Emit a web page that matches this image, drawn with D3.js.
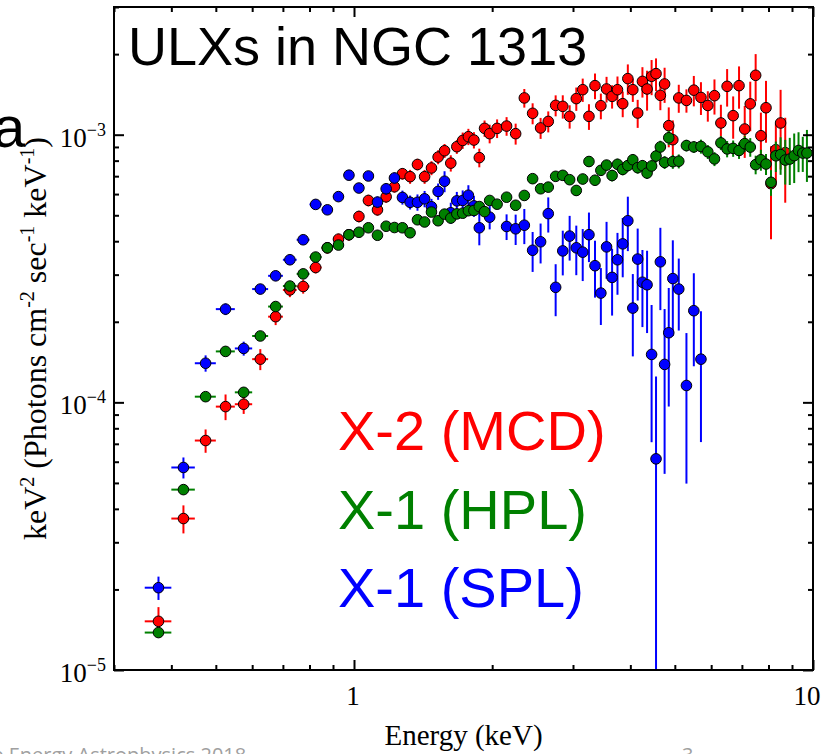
<!DOCTYPE html>
<html>
<head>
<meta charset="utf-8">
<script src="https://cdn.jsdelivr.net/npm/d3@7"></script>
<style>
  body { margin: 0; background: #fff; }
  svg { display: block; }
</style>
</head>
<body>
<svg id="chart" width="824" height="754"></svg>
<script>
// ---------- data ----------
// Unfolded spectra, keV^2 (photons cm^-2 s^-1 keV^-1) vs energy (keV)
const energyDomain = [0.3, 10];
const fluxDomain = [1e-5, 3e-3];
const xMajorTicks = [1, 10];
const xTickLabels = ["1", "10"];
const yMajorTicks = [1e-5, 1e-4, 1e-3];
const yTickExponents = ["\u22125", "\u22124", "\u22123"];
const binHalfWidth = 0.025; // keV

// X-2, multicolour disc
const redEnergy = [0.375,0.425,0.475,0.525,0.575,0.625,0.675,0.725,0.775,0.825,0.875,0.925,0.975,
  1.025,1.075,1.125,1.175,1.225,1.275,1.325,1.375,1.425,1.475,1.525,1.575,1.625,1.675,1.725,1.775,1.825,1.875,1.925,1.975,
  2.05,2.15,2.25,2.35,2.45,2.55,2.65,2.75,2.85,2.95,3.05,3.15,3.25,3.35,3.45,3.55,3.65,3.75,3.85,3.95,
  4.05,4.15,4.25,4.35,4.45,4.55,4.65,4.75,4.85,4.95,5.1,5.3,5.5,5.7,5.9,6.1,6.3,6.5,6.7,6.9,
  7.1,7.3,7.5,7.7,7.9,8.1,8.3,8.5,8.7];
const redFlux = [1.52e-5,3.68e-5,7.20e-5,9.64e-5,9.84e-5,1.45e-4,2.09e-4,2.63e-4,2.71e-4,3.19e-4,3.78e-4,4.07e-4,4.23e-4,
  4.95e-4,5.68e-4,5.24e-4,5.86e-4,6.39e-4,7.15e-4,6.97e-4,7.74e-4,6.97e-4,7.51e-4,8.25e-4,8.71e-4,7.83e-4,9.02e-4,9.52e-4,9.83e-4,9.55e-4,8.21e-4,1.056e-3,1.009e-3,
  1.056e-3,1.077e-3,1.009e-3,1.372e-3,1.202e-3,1.060e-3,1.121e-3,1.287e-3,1.276e-3,1.171e-3,1.364e-3,1.473e-3,1.171e-3,1.525e-3,1.283e-3,1.482e-3,1.391e-3,1.473e-3,1.306e-3,1.620e-3,
  1.473e-3,1.205e-3,1.582e-3,1.482e-3,1.653e-3,1.691e-3,1.403e-3,1.547e-3,1.081e-3,9.58e-4,1.372e-3,1.343e-3,1.467e-3,1.378e-3,1.286e-3,1.399e-3,1.106e-3,1.516e-3,1.178e-3,1.525e-3,
  1.050e-3,1.304e-3,1.667e-3,9.91e-4,1.261e-3,6.56e-4,8.79e-4,1.106e-3,8.57e-4];
const redErrFrac = [0.13,0.12,0.10,0.11,0.08,0.09,0.07,0.06,0.06,0.05,0.05,0.05,0.05,
  0.05,0.05,0.05,0.05,0.05,0.05,0.06,0.05,0.06,0.06,0.06,0.06,0.07,0.06,0.07,0.07,0.07,0.08,0.07,0.08,
  0.08,0.08,0.09,0.08,0.09,0.09,0.09,0.09,0.10,0.10,0.10,0.10,0.11,0.11,0.11,0.11,0.10,0.12,0.11,0.13,
  0.10,0.12,0.13,0.17,0.15,0.14,0.12,0.15,0.17,0.18,0.12,0.10,0.13,0.14,0.13,0.15,0.17,0.16,0.18,0.18,
  0.22,0.21,0.20,0.22,0.26,0.38,0.25,0.33,0.35];

// X-1, soft power law
const blueEnergy = [0.375,0.425,0.475,0.525,0.575,0.625,0.675,0.725,0.775,0.825,0.875,0.925,0.975,
  1.025,1.075,1.125,1.175,1.225,1.275,1.325,1.375,1.425,1.475,1.525,1.575,1.625,1.675,1.725,1.775,1.825,1.875,1.975,
  2.15,2.25,2.35,2.45,2.55,2.65,2.75,2.85,2.95,3.05,3.15,3.25,3.35,3.45,3.55,3.65,3.75,3.85,3.95,
  4.05,4.15,4.25,4.35,4.45,4.55,4.65,4.75,4.85,4.95,5.1,5.3,5.5,5.7];
const blueFlux = [2.03e-5,5.71e-5,1.40e-4,2.23e-4,1.59e-4,2.65e-4,2.97e-4,3.41e-4,4.05e-4,5.49e-4,5.24e-4,5.87e-4,7.06e-4,
  6.32e-4,7.01e-4,5.60e-4,6.28e-4,6.89e-4,5.83e-4,5.59e-4,5.59e-4,5.76e-4,5.38e-4,6.14e-4,6.70e-4,5.11e-4,5.66e-4,5.68e-4,5.94e-4,5.42e-4,4.49e-4,4.92e-4,
  4.54e-4,4.45e-4,4.59e-4,3.70e-4,3.98e-4,5.07e-4,2.69e-4,3.68e-4,4.18e-4,3.78e-4,3.64e-4,4.23e-4,3.24e-4,2.56e-4,3.81e-4,2.93e-4,3.41e-4,3.91e-4,4.77e-4,
  2.25e-4,3.43e-4,2.81e-4,2.75e-4,1.51e-4,6.15e-5,3.35e-4,1.386e-4,1.82e-4,2.90e-4,2.65e-4,1.156e-4,2.20e-4,1.45e-4];
const blueErrFrac = [0.10,0.09,0.07,0.05,0.06,0.045,0.045,0.045,0.04,0.035,0.035,0.035,0.035,
  0.04,0.04,0.05,0.05,0.05,0.06,0.06,0.07,0.07,0.07,0.07,0.09,0.09,0.08,0.09,0.09,0.09,0.14,0.10,
  0.11,0.13,0.15,0.17,0.17,0.15,0.22,0.19,0.19,0.21,0.22,0.21,0.24,0.24,0.24,0.28,0.26,0.25,0.23,
  0.34,0.30,0.32,0.34,0.53,1.03,0.34,0.61,0.47,0.39,0.30,0.57,0.38,0.51];

// X-1, hard power law
const greenEnergy = [0.375,0.425,0.475,0.525,0.575,0.625,0.675,0.725,0.775,0.825,0.875,0.925,0.975,
  1.025,1.075,1.125,1.175,1.225,1.275,1.325,1.375,1.425,1.475,1.525,1.575,1.625,1.675,1.725,1.775,1.825,1.875,1.925,1.975,
  2.05,2.15,2.25,2.35,2.45,2.55,2.65,2.75,2.85,2.95,3.05,3.15,3.25,3.35,3.45,3.55,3.65,3.75,3.85,3.95,
  4.05,4.15,4.25,4.35,4.45,4.55,4.65,4.75,4.85,4.95,5.1,5.3,5.5,5.7,5.9,6.1,6.3,6.5,6.7,6.9,
  7.1,7.3,7.5,7.7,7.9,8.1,8.3,8.5,8.7,8.9,9.1,9.3,9.5,9.7];
const greenFlux = [1.38e-5,4.72e-5,1.05e-4,1.55e-4,1.09e-4,1.77e-4,2.28e-4,2.72e-4,3.02e-4,3.49e-4,3.78e-4,3.87e-4,4.23e-4,
  4.32e-4,4.49e-4,4.21e-4,4.55e-4,4.50e-4,4.49e-4,4.30e-4,4.81e-4,4.72e-4,5.14e-4,4.77e-4,5.05e-4,4.88e-4,5.06e-4,5.09e-4,5.20e-4,5.21e-4,5.39e-4,5.16e-4,5.68e-4,
  5.50e-4,5.84e-4,5.45e-4,5.93e-4,6.85e-4,6.28e-4,6.37e-4,6.99e-4,7.05e-4,6.79e-4,6.19e-4,6.83e-4,7.94e-4,6.76e-4,7.36e-4,7.70e-4,7.04e-4,7.75e-4,7.42e-4,7.67e-4,
  8.06e-4,7.53e-4,7.66e-4,7.19e-4,7.64e-4,8.32e-4,9.00e-4,7.88e-4,9.74e-4,7.93e-4,7.96e-4,9.11e-4,9.00e-4,9.04e-4,8.63e-4,8.12e-4,9.32e-4,8.85e-4,8.89e-4,8.73e-4,
  9.26e-4,8.99e-4,7.73e-4,8.06e-4,7.77e-4,6.64e-4,8.34e-4,8.43e-4,8.04e-4,8.11e-4,8.35e-4,8.73e-4,8.54e-4,8.54e-4];
const greenErrFrac = [0.04,0.03,0.03,0.03,0.03,0.03,0.03,0.03,0.03,0.03,0.03,0.03,0.03,
  0.03,0.03,0.03,0.03,0.03,0.03,0.03,0.03,0.03,0.03,0.03,0.03,0.03,0.035,0.035,0.035,0.035,0.035,0.035,0.035,
  0.035,0.035,0.04,0.04,0.04,0.04,0.04,0.04,0.04,0.04,0.045,0.045,0.045,0.045,0.045,0.045,0.05,0.05,0.05,0.05,
  0.05,0.05,0.05,0.05,0.055,0.055,0.055,0.055,0.06,0.06,0.06,0.05,0.05,0.06,0.06,0.06,0.06,0.07,0.07,0.07,
  0.07,0.08,0.08,0.09,0.09,0.11,0.13,0.16,0.19,0.20,0.21,0.17,0.15,0.22];

const legendLabels = ["X-2 (MCD)", "X-1 (HPL)", "X-1 (SPL)"];
const legendColors = ["#ff0000", "#008000", "#0000ff"];

// ---------- layout ----------
const svg = d3.select("#chart");
const plot = { left: 114, right: 813, top: 7, bottom: 670 };
const serif = "'Liberation Serif','Times New Roman',serif";
const sans = "'Liberation Sans',Arial,Helvetica,sans-serif";

const x = d3.scaleLog().domain(energyDomain).range([plot.left, plot.right]);
const y = d3.scaleLog().domain(fluxDomain).range([plot.bottom, plot.top]);

svg.append("defs").append("clipPath").attr("id", "plotClip")
  .append("rect")
  .attr("x", plot.left).attr("y", plot.top)
  .attr("width", plot.right - plot.left).attr("height", plot.bottom - plot.top);

// ---------- data marks ----------
const dataG = svg.append("g").attr("clip-path", "url(#plotClip)");

const series = [
  { color: "#ff0000", energy: redEnergy, flux: redFlux, err: redErrFrac },
  { color: "#0000ff", energy: blueEnergy, flux: blueFlux, err: blueErrFrac },
  { color: "#008000", energy: greenEnergy, flux: greenFlux, err: greenErrFrac }
];

series.forEach(s => {
  const pts = s.energy.map((e, i) => ({ e, f: s.flux[i], df: s.flux[i] * s.err[i] }));
  const g = dataG.append("g");
  g.selectAll("line.v").data(pts).join("line")
    .attr("class", "v")
    .attr("x1", d => x(d.e)).attr("x2", d => x(d.e))
    .attr("y1", d => y(d.f + d.df))
    .attr("y2", d => d.f - d.df > 0 ? y(d.f - d.df) : plot.bottom + 20)
    .attr("stroke", s.color).attr("stroke-width", 2);
  g.selectAll("line.h").data(pts).join("line")
    .attr("class", "h")
    .attr("x1", d => x(d.e - binHalfWidth)).attr("x2", d => x(d.e + binHalfWidth))
    .attr("y1", d => y(d.f)).attr("y2", d => y(d.f))
    .attr("stroke", s.color).attr("stroke-width", 2);
  g.selectAll("circle").data(pts).join("circle")
    .attr("cx", d => x(d.e)).attr("cy", d => y(d.f))
    .attr("r", 5.3)
    .attr("fill", s.color).attr("stroke", "#000").attr("stroke-width", 1);
});

// ---------- axes (ticks point inward) ----------
const xAll = x.ticks();
const yAll = y.ticks();
const isMajor = v => Math.abs(Math.log10(v) - Math.round(Math.log10(v))) < 1e-6;
const xMinor = xAll.filter(v => !isMajor(v));
const yMinor = yAll.filter(v => !isMajor(v));

function tickAxis(axisFn, scale, values, size, transform) {
  const g = svg.append("g").attr("transform", transform)
    .call(axisFn(scale).tickValues(values).tickSize(-size).tickFormat(""));
  g.select(".domain").remove();
  g.selectAll(".tick line").attr("stroke", "#000").attr("stroke-width", 2);
  return g;
}
tickAxis(d3.axisBottom, x, xMinor, 5, `translate(0,${plot.bottom})`);
tickAxis(d3.axisBottom, x, xMajorTicks, 10, `translate(0,${plot.bottom})`);
tickAxis(d3.axisTop, x, xMinor, 5, `translate(0,${plot.top})`);
tickAxis(d3.axisTop, x, xMajorTicks, 10, `translate(0,${plot.top})`);
tickAxis(d3.axisLeft, y, yMinor, 5, `translate(${plot.left},0)`);
tickAxis(d3.axisLeft, y, yMajorTicks, 10, `translate(${plot.left},0)`);
tickAxis(d3.axisRight, y, yMinor, 5, `translate(${plot.right},0)`);
tickAxis(d3.axisRight, y, yMajorTicks, 10, `translate(${plot.right},0)`);

// frame
svg.append("rect")
  .attr("x", plot.left).attr("y", plot.top)
  .attr("width", plot.right - plot.left).attr("height", plot.bottom - plot.top)
  .attr("fill", "none").attr("stroke", "#000").attr("stroke-width", 2);

// x tick labels
svg.selectAll("text.xtl").data(xMajorTicks).join("text")
  .attr("class", "xtl")
  .attr("x", (d, i) => x(d) + (i === xMajorTicks.length - 1 ? -6 : -1))
  .attr("y", 705)
  .attr("text-anchor", "middle")
  .attr("font-family", serif).attr("font-size", 27)
  .text((d, i) => xTickLabels[i]);

// y tick labels: 10 with superscript exponent
yMajorTicks.forEach((v, i) => {
  const t = svg.append("text")
    .attr("x", 106).attr("y", y(v) + 12)
    .attr("text-anchor", "end")
    .attr("font-family", serif).attr("font-size", 27);
  t.append("tspan").text("10");
  t.append("tspan").attr("dy", -11).attr("font-size", 18).text(yTickExponents[i]);
});

// axis titles
svg.append("text")
  .attr("x", (plot.left + plot.right) / 2).attr("y", 745)
  .attr("text-anchor", "middle")
  .attr("font-family", serif).attr("font-size", 29)
  .text("Energy (keV)");

const yl = svg.append("text")
  .attr("transform", `translate(46,${(plot.top + plot.bottom) / 2}) rotate(-90)`)
  .attr("text-anchor", "middle")
  .attr("font-family", serif).attr("font-size", 32);
const ylParts = [["keV", 0], ["2", 1], [" (Photons cm", 0], ["-2", 1], [" sec", 0], ["-1", 1], [" keV", 0], ["-1", 1], [")", 0]];
let raised = false;
ylParts.forEach(([txt, sup]) => {
  const ts = yl.append("tspan").text(txt);
  if (sup) { ts.attr("font-size", 20).attr("dy", raised ? 0 : -12); raised = true; }
  else { ts.attr("dy", raised ? 12 : 0); raised = false; }
});

// title and panel letter
svg.append("text")
  .attr("x", 128).attr("y", 65)
  .attr("font-family", sans).attr("font-size", 54)
  .text("ULXs in NGC 1313");

svg.append("text")
  .attr("x", -7).attr("y", 147)
  .attr("font-family", sans).attr("font-size", 58)
  .text("a");

// legend
const legendBaselines = [450, 529, 607];
legendLabels.forEach((lab, i) => {
  svg.append("text")
    .attr("x", 338).attr("y", legendBaselines[i])
    .attr("font-family", sans).attr("font-size", 56)
    .attr("fill", legendColors[i])
    .text(lab);
});

// page footer
svg.append("text")
  .attr("x", -20).attr("y", 762)
  .attr("font-family", "'Open Sans',sans-serif").attr("font-size", 20)
  .attr("fill", "#a0a0a0")
  .text("ne Energy Astrophysics 2018");
svg.append("text")
  .attr("x", 682).attr("y", 762)
  .attr("font-family", "'Open Sans',sans-serif").attr("font-size", 20)
  .attr("fill", "#a0a0a0")
  .text("3");
</script>
</body>
</html>
